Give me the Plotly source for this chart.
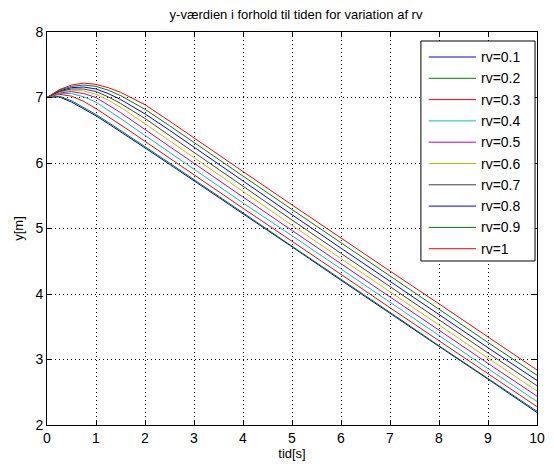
import plotly.graph_objects as go

# time samples [s]
t = [0, 0.25, 0.5, 0.75, 1, 1.25, 1.5, 1.75, 2, 2.5, 3, 4, 5, 6, 7, 8, 9, 10]

# rv values and the corresponding height curves y(t) [m]
rv_labels = ["rv=0.1", "rv=0.2", "rv=0.3", "rv=0.4", "rv=0.5",
             "rv=0.6", "rv=0.7", "rv=0.8", "rv=0.9", "rv=1"]

y_rv01 = [7.00, 7.01, 6.93, 6.83, 6.72, 6.60, 6.48, 6.35, 6.23, 5.98, 5.73, 5.22, 4.72, 4.21, 3.70, 3.20, 2.70, 2.19]
y_rv02 = [7.00, 7.02, 6.95, 6.85, 6.74, 6.62, 6.50, 6.37, 6.25, 6.00, 5.75, 5.24, 4.73, 4.23, 3.72, 3.21, 2.71, 2.21]
y_rv03 = [7.00, 7.05, 7.02, 6.94, 6.83, 6.71, 6.58, 6.46, 6.33, 6.08, 5.82, 5.31, 4.81, 4.30, 3.79, 3.29, 2.78, 2.28]
y_rv04 = [7.00, 7.06, 7.06, 7.01, 6.93, 6.81, 6.68, 6.55, 6.42, 6.16, 5.90, 5.39, 4.89, 4.38, 3.87, 3.37, 2.86, 2.36]
y_rv05 = [7.00, 7.07, 7.09, 7.06, 7.00, 6.89, 6.77, 6.64, 6.51, 6.25, 5.99, 5.48, 4.97, 4.46, 3.95, 3.45, 2.94, 2.44]
y_rv06 = [7.00, 7.08, 7.11, 7.10, 7.05, 6.96, 6.85, 6.73, 6.60, 6.34, 6.08, 5.56, 5.05, 4.54, 4.03, 3.53, 3.02, 2.52]
y_rv07 = [7.00, 7.09, 7.13, 7.13, 7.09, 7.01, 6.91, 6.80, 6.68, 6.42, 6.16, 5.64, 5.13, 4.62, 4.11, 3.61, 3.10, 2.60]
y_rv08 = [7.00, 7.10, 7.15, 7.16, 7.13, 7.06, 6.97, 6.86, 6.75, 6.50, 6.24, 5.72, 5.21, 4.70, 4.19, 3.69, 3.18, 2.68]
y_rv09 = [7.00, 7.11, 7.17, 7.19, 7.17, 7.11, 7.03, 6.93, 6.82, 6.57, 6.31, 5.80, 5.29, 4.78, 4.27, 3.77, 3.26, 2.76]
y_rv10 = [7.00, 7.12, 7.19, 7.22, 7.20, 7.15, 7.08, 6.99, 6.89, 6.64, 6.38, 5.87, 5.36, 4.85, 4.35, 3.85, 3.34, 2.84]

series = [y_rv01, y_rv02, y_rv03, y_rv04, y_rv05,
          y_rv06, y_rv07, y_rv08, y_rv09, y_rv10]

# classic MATLAB line colour order (cycles after seven)
colors = ["#0000ff", "#008000", "#ff0000", "#00bfbf", "#bf00bf",
          "#bfbf00", "#404040", "#0000ff", "#008000", "#ff0000"]

W, H = 554, 469
ML, MR, MT, MB = 47, 9, 32, 44
PW, PH = W - ML - MR, H - MT - MB


def px_x(px):
    """pixel column -> paper x fraction of the plot area"""
    return (px - ML) / PW


def px_y(py):
    """pixel row (from top) -> paper y fraction of the plot area"""
    return (H - MB - py) / PH


fig = go.Figure()
for name, ys, c in zip(rv_labels, series, colors):
    fig.add_trace(go.Scatter(x=t, y=ys, mode="lines", name=name,
                             line=dict(color=c, width=1), showlegend=False))

font = "Liberation Sans, Arial, Helvetica, sans-serif"
axis_common = dict(
    showline=True, linecolor="black", linewidth=1, mirror="allticks",
    ticks="inside", ticklen=5, tickcolor="black",
    showgrid=True, gridcolor="black", gridwidth=1, griddash="1px,3px",
    zeroline=False, tickfont=dict(family=font, size=14, color="black"),
)

# boxed legend in the upper right corner of the axes
LEG_X0, LEG_X1, LEG_Y0, LEG_Y1 = 427, 543, 41, 261
ROW0, ROW_STEP = 57, 21.3
shapes = [dict(type="rect", xref="paper", yref="paper",
               x0=px_x(LEG_X0), x1=px_x(LEG_X1),
               y0=px_y(LEG_Y1), y1=px_y(LEG_Y0),
               line=dict(color="black", width=1), fillcolor="white",
               layer="above")]
annotations = []
for i, (name, c) in enumerate(zip(rv_labels, colors)):
    ry = ROW0 + i * ROW_STEP
    shapes.append(dict(type="line", xref="paper", yref="paper",
                       x0=px_x(435), x1=px_x(483), y0=px_y(ry), y1=px_y(ry),
                       line=dict(color=c, width=1), layer="above"))
    annotations.append(dict(text=name, xref="paper", yref="paper",
                            x=px_x(486), y=px_y(ry), xanchor="left",
                            yanchor="middle", showarrow=False,
                            font=dict(family=font, size=14, color="black")))

fig.update_layout(
    width=W, height=H,
    margin=dict(l=ML, r=MR, t=MT, b=MB),
    paper_bgcolor="white", plot_bgcolor="white",
    font=dict(family=font, size=13, color="black"),
    title=dict(text="y-værdien i forhold til tiden for variation af rv",
               x=(ML + PW / 2) / W, xanchor="center", y=1 - 14 / H,
               yanchor="middle",
               font=dict(family=font, size=13, color="black")),
    xaxis=dict(range=[0, 10], dtick=1,
               title=dict(text="tid[s]", standoff=3,
                          font=dict(family=font, size=13)),
               **axis_common),
    yaxis=dict(range=[2, 8], dtick=1,
               title=dict(text="y[m]", standoff=8,
                          font=dict(family=font, size=13)),
               **axis_common),
    shapes=shapes,
    annotations=annotations,
    showlegend=False,
)

fig.write_html("out.html")
